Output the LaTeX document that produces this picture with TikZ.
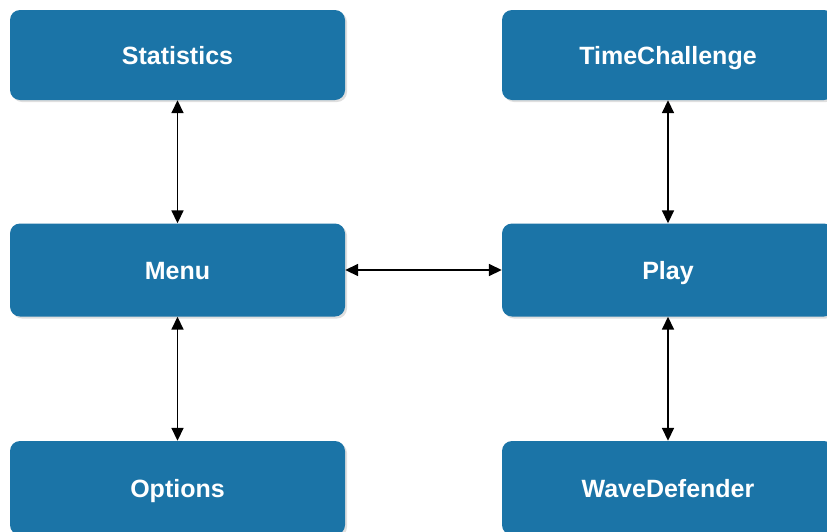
\documentclass[tikz,border=0pt]{standalone}
\usepackage{fontspec}
\setmainfont{Liberation Sans}
\usetikzlibrary{arrows.meta,shadows}
\definecolor{boxblue}{RGB}{27,116,167}
\tikzset{
  stagebox/.style={rectangle, rounded corners=10pt, fill=boxblue, draw=none,
    text=white, font=\fontsize{25}{29}\selectfont\bfseries, inner sep=0pt,
    text height=22pt, text depth=4pt,
    minimum height=93pt,
    drop shadow={opacity=0.25, shadow xshift=2pt, shadow yshift=-2pt}},
  leftbox/.style={stagebox, minimum width=335pt},
  rightbox/.style={stagebox, minimum width=332pt},
  link/.style={{Triangle[length=13pt,width=12pt]}-{Triangle[length=13pt,width=12pt]}, line width=1.7pt, black}
}
\begin{document}
\begin{tikzpicture}[x=1pt,y=-1pt]
\useasboundingbox[fill=white] (0,0) rectangle (827,531);
\node[leftbox, minimum height=90pt] (stat) at (177.5,55) {Statistics};
\node[rightbox, minimum height=90pt] (time) at (668,55) {TimeChallenge};
\node[leftbox] (menu) at (177.5,270) {Menu};
\node[rightbox] (play) at (668,270) {Play};
\node[leftbox, minimum height=94pt] (opt) at (177.5,488) {Options};
\node[rightbox, minimum height=94pt] (wave) at (668,488) {WaveDefender};
\draw[link] (stat) -- (menu);
\draw[link] (menu) -- (opt);
\draw[link] (time) -- (play);
\draw[link] (play) -- (wave);
\draw[link] (menu) -- (play);
\end{tikzpicture}
\end{document}
